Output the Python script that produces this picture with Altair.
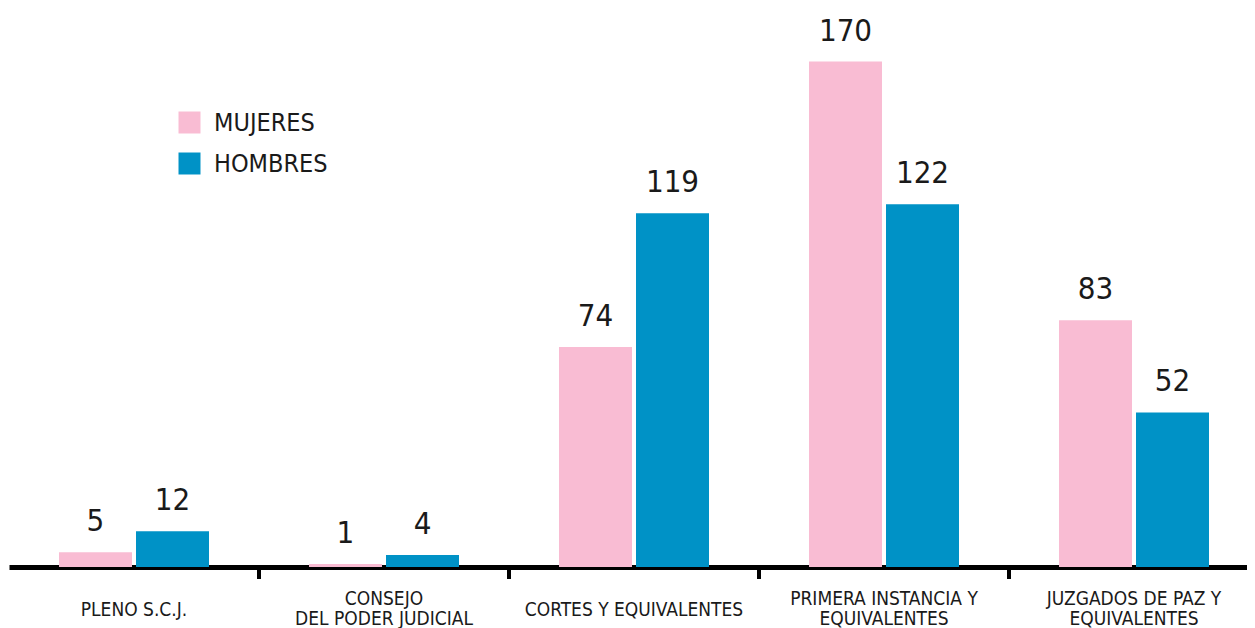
import altair as alt
import pandas as pd

categories = [
    "PLENO S.C.J.",
    "CONSEJO\nDEL PODER JUDICIAL",
    "CORTES Y EQUIVALENTES",
    "PRIMERA INSTANCIA Y\nEQUIVALENTES",
    "JUZGADOS DE PAZ Y\nEQUIVALENTES",
]
series = ["MUJERES", "HOMBRES"]
mujeres = [5, 1, 74, 170, 83]
hombres = [12, 4, 119, 122, 52]
colors = ["#F9BCD3", "#0092C6"]

rows = []
for c, m, h in zip(categories, mujeres, hombres):
    rows.append({"cat": c, "serie": "MUJERES", "valor": m})
    rows.append({"cat": c, "serie": "HOMBRES", "valor": h})
df = pd.DataFrame(rows)
ticks_df = pd.DataFrame({"cat": categories[1:]})

FONT = "'Liberation Sans Narrow', 'DejaVu Sans Condensed', 'Roboto Condensed', sans-serif"
TXT = "#1a1a1a"
W = 1238          # visible plot width (fits the page body)
RANGE = 1250      # band range, runs slightly past the right edge like the reference
STEP = RANGE / 5

xscale = alt.Scale(domain=categories, paddingInner=0.4, paddingOuter=0.2, range=[0, RANGE])
yscale = alt.Scale(domain=[0, 188], nice=False)

x_axis = alt.Axis(
    domain=True,
    domainColor="black",
    domainWidth=5,
    ticks=False,
    tickSize=0,
    labelAngle=0,
    labelBaseline="middle",
    labelPadding={"condition": {"test": "indexof(datum.value, '\\n') >= 0", "value": 31}, "value": 42},
    labelFontSize=19,
    labelFont=FONT,
    labelColor=TXT,
    labelLineHeight=20,
    labelLimit=400,
    labelOverlap=False,
    labelExpr="split(datum.label, '\\n')",
    grid=False,
)

bars = alt.Chart(df).mark_bar().encode(
    x=alt.X("cat:N", sort=categories, scale=xscale, title=None, axis=x_axis),
    xOffset=alt.XOffset("serie:N", sort=series, scale=alt.Scale(domain=series, paddingInner=0.052, paddingOuter=0)),
    y=alt.Y("valor:Q", scale=yscale, axis=None),
    color=alt.Color(
        "serie:N",
        sort=series,
        scale=alt.Scale(domain=series, range=colors),
        legend=alt.Legend(
            title=None,
            orient="none",
            legendX=168,
            legendY=102,
            symbolType="square",
            symbolSize=484,
            symbolStrokeWidth=0,
            labelFontSize=25,
            labelFont=FONT,
            labelColor=TXT,
            labelOffset=12,
            rowPadding=15,
            padding=0,
        ),
    ),
)

labels = alt.Chart(df).mark_text(
    dy=-21, fontSize=31, font=FONT, color=TXT, baseline="alphabetic"
).encode(
    x=alt.X("cat:N", sort=categories, scale=xscale, title=None, axis=x_axis),
    xOffset=alt.XOffset("serie:N", sort=series),
    y=alt.Y("valor:Q", scale=yscale, axis=None),
    text=alt.Text("valor:Q"),
)

ticks = alt.Chart(ticks_df).mark_rule(color="black", strokeWidth=4, xOffset=-0.2 * STEP).encode(
    x=alt.X("cat:N", sort=categories, scale=xscale, bandPosition=0, title=None, axis=x_axis),
    y=alt.value(560),
    y2=alt.value(571),
)

chart = (
    alt.layer(bars, labels, ticks)
    .properties(
        width=W,
        height=559,
        padding={"left": 1, "top": 0, "right": 0, "bottom": 61},
        autosize=alt.AutoSizeParams(type="none"),
        view=alt.ViewBackground(stroke="transparent", strokeOpacity=0),
    )
    .configure_view(stroke="transparent", strokeOpacity=0)
    .configure(background="white")
)

chart.save("out.html", embed_options={"renderer": "svg", "actions": False})
